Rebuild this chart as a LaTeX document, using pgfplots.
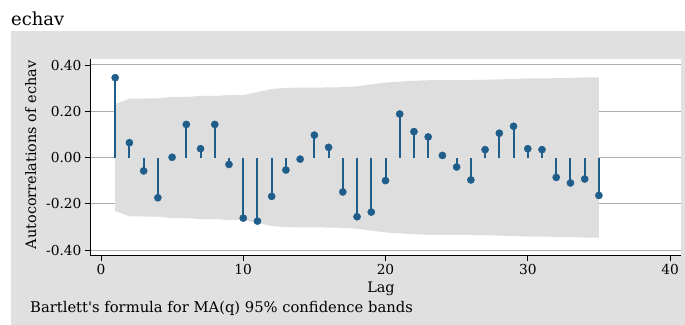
\documentclass[border=0pt]{standalone}
\usepackage{pgfplots}
\pgfplotsset{compat=1.18}
\usepackage{pgfplotstable}
\usepackage{fontspec}
\setmainfont{DejaVu Serif}
\definecolor{outergray}{HTML}{E0E0E0}
\definecolor{bandgray}{HTML}{DEDEDE}
\definecolor{gridgray}{HTML}{ADADAD}
\definecolor{stata}{HTML}{1F5D8B}

\pgfplotstableread{
lag r
1 0.345
2 0.064
3 -0.058
4 -0.174
5 0.001
6 0.143
7 0.038
8 0.143
9 -0.030
10 -0.262
11 -0.275
12 -0.168
13 -0.054
14 -0.007
15 0.097
16 0.044
17 -0.149
18 -0.256
19 -0.236
20 -0.100
21 0.188
22 0.112
23 0.089
24 0.009
25 -0.041
26 -0.097
27 0.034
28 0.105
29 0.135
30 0.038
31 0.034
32 -0.086
33 -0.110
34 -0.093
35 -0.164
}\acf

% confidence band outline: upper edge lag 1..35, then lower edge lag 35..1
\pgfplotstableread{
lag b
1 0.231
2 0.254
3 0.255
4 0.256
5 0.262
6 0.262
7 0.266
8 0.266
9 0.270
10 0.270
11 0.283
12 0.296
13 0.301
14 0.302
15 0.302
16 0.303
17 0.304
18 0.308
19 0.316
20 0.324
21 0.328
22 0.332
23 0.334
24 0.335
25 0.335
26 0.335
27 0.336
28 0.338
29 0.339
30 0.342
31 0.342
32 0.343
33 0.344
34 0.346
35 0.347
35 -0.347
34 -0.346
33 -0.344
32 -0.343
31 -0.342
30 -0.342
29 -0.339
28 -0.338
27 -0.336
26 -0.335
25 -0.335
24 -0.335
23 -0.334
22 -0.332
21 -0.328
20 -0.324
19 -0.316
18 -0.308
17 -0.304
16 -0.303
15 -0.302
14 -0.302
13 -0.301
12 -0.296
11 -0.283
10 -0.270
9 -0.270
8 -0.266
7 -0.266
6 -0.262
5 -0.262
4 -0.256
3 -0.255
2 -0.254
1 -0.231
}\band

\begin{document}
\begin{tikzpicture}
\useasboundingbox (0bp,0bp) rectangle (685bp,325bp);
\fill[white] (0bp,0bp) rectangle (685bp,325bp);
\fill[outergray] (11bp,0bp) rectangle (685bp,294bp);
\node[anchor=base west, inner sep=0pt, font=\fontsize{18}{21}\selectfont] at (11bp,299bp) {echav};
\begin{axis}[
  at={(90bp,69.3bp)}, anchor=south west, scale only axis,
  width=591bp, height=196.2bp,
  xmin=-0.77, xmax=40.77, ymin=-0.4246, ymax=0.4238,
  axis background/.style={fill=white},
  axis x line*=bottom, axis y line*=left,
  axis line style={black, line width=1bp, -},
  xtick={0,10,20,30,40}, ytick={-0.4,-0.2,0,0.2,0.4},
  ymajorgrids, grid style={gridgray, line width=1bp},
  tick align=outside, major tick length=5bp,
  tick style={black, line width=0.8bp},
  every tick label/.append style={font=\fontsize{13.8}{16}\selectfont, text=black},
  yticklabel style={/pgf/number format/.cd, fixed, fixed zerofill, precision=2},
  /pgf/number format/assume math mode=true,
]
\addplot[fill=bandgray, draw=none] table[x=lag,y=b]{\band};
\addplot[ycomb, stata, line width=2bp, mark=*, mark size=3.6bp,
  mark options={solid, fill=stata, draw=stata, line width=0.4bp}]
  table[x=lag,y=r]{\acf};
\end{axis}
\node[rotate=90, anchor=base, inner sep=0pt, font=\fontsize{14.5}{17}\selectfont] at (36bp,170bp) {Autocorrelations of echav};
\node[anchor=base, inner sep=0pt, font=\fontsize{14.5}{17}\selectfont] at (381bp,33bp) {Lag};
\node[anchor=base west, inner sep=0pt, font=\fontsize{14.8}{17}\selectfont] at (30bp,13bp) {Bartlett\textquotesingle s formula for MA(q) 95\% confidence bands};
\end{tikzpicture}
\end{document}
